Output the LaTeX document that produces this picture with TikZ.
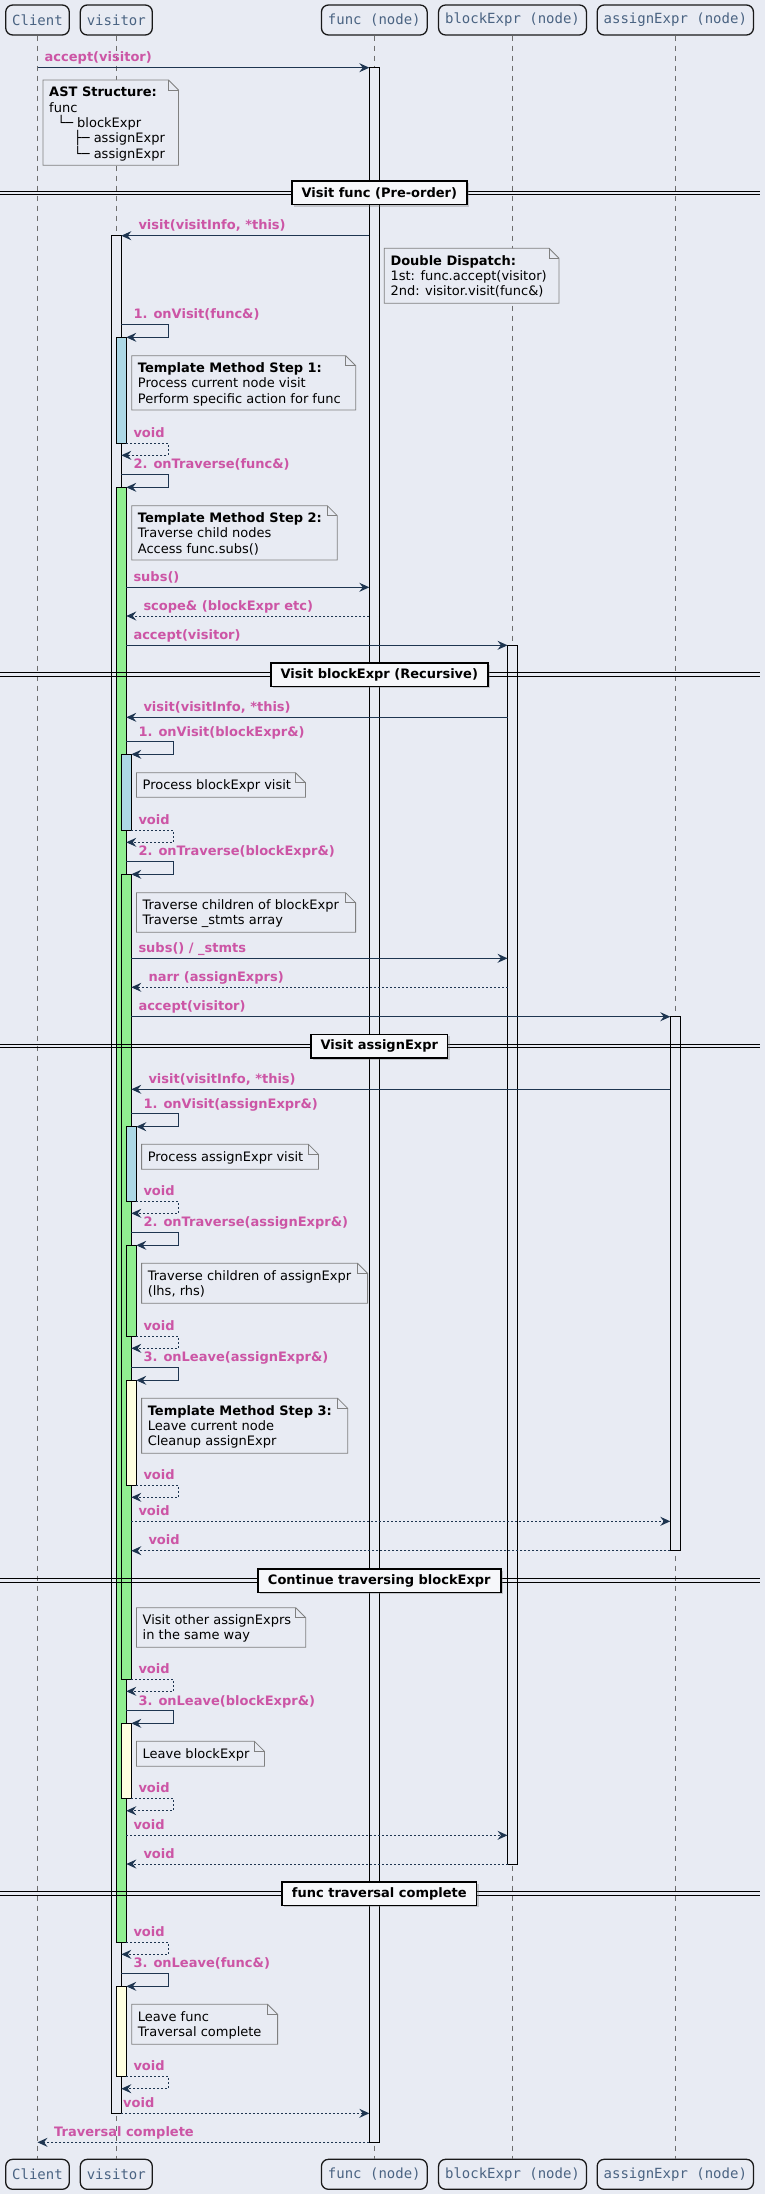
\documentclass[tikz,border=0pt]{standalone}
\usepackage{fontspec}
\setmainfont{DejaVu Sans}
\setmonofont{DejaVu Sans Mono}
\usetikzlibrary{arrows.meta,shadows}
\definecolor{bgc}{HTML}{E8EBF3}
\definecolor{arrc}{HTML}{1E3550}
\definecolor{pinkc}{HTML}{CC55A5}
\definecolor{partc}{HTML}{4A6382}
\definecolor{notec}{HTML}{808080}
\definecolor{lifec}{HTML}{6E6E6E}
\definecolor{actblue}{HTML}{ADD8E6}
\definecolor{actgreen}{HTML}{90EE90}
\definecolor{actyellow}{HTML}{FFFFE0}
% straight message: name, style, x1, x2, y, label x, text
\newcommand\callmsg[7]{%
  \coordinate (#1s) at (#3,#5);
  \coordinate (#1e) at (#4,#5);
  \draw[#2] (#1s) -- (#1e);
  \node[lbl] (#1l) at (#6,#5-6) {#7};}
% self message: name, style, x src, x loop, x dest, y top, y bottom, label x, text
\newcommand\selfmsg[9]{%
  \coordinate (#1a) at (#3,#6);
  \coordinate (#1b) at (#4,#6);
  \coordinate (#1c) at (#4,#7);
  \coordinate (#1d) at (#5,#7);
  \draw[#2] (#1a) -- (#1b) -- (#1c) -- (#1d);
  \node[lbl] (#1l) at (#8,#6-5.5) {#9};}
% note: name, x1, y1, x2, y2, text
\newcommand\notebox[6]{%
  \draw[notestyle] (#2,#3) -- (#4-10,#3) -- (#4,#3+10) -- (#4,#5) -- (#2,#5) -- cycle;
  \draw[notestyle, fill=none] (#4-10,#3) -- (#4-10,#3+10) -- (#4,#3+10);
  \node[notetext] (#1) at (#2+6,#3+7) {#6};}
% divider: name, y, width, text
\newcommand\divider[4]{%
  \draw[divline] (0,#2-1.8) -- (760,#2-1.8);
  \draw[divline] (0,#2+1.8) -- (760,#2+1.8);
  \node[divbox, minimum width=#3] (#1) at (379.3,#2) {#4};}
\begin{document}
\begin{tikzpicture}[x=1pt,y=-1pt,
  msg/.style={draw=arrc, line width=1pt, -{Stealth[length=10pt,width=9pt,inset=3.5pt]}},
  ret/.style={msg, dash pattern=on 2pt off 2pt},
  lbl/.style={font=\fontsize{13}{15}\selectfont\bfseries, text=pinkc, anchor=base west, inner sep=0},
  notestyle/.style={draw=notec, line width=0.8pt, fill=bgc},
  notetext/.style={font=\fontsize{13}{15.2}\selectfont, anchor=north west, align=left, inner sep=0},
  part/.style={draw=black!90, line width=1.3pt, rounded corners=7pt, fill=bgc, text=partc,
    font=\ttfamily\fontsize{14}{16}\selectfont, minimum height=30pt, inner xsep=6.5pt, inner ysep=0},
  life/.style={draw=lifec, line width=0.7pt, dash pattern=on 5pt off 5pt},
  bar/.style={draw=black, line width=0.9pt},
  divline/.style={draw=black, line width=0.9pt},
  divbox/.style={draw=black, line width=1.5pt, fill=bgc!40!white,
    font=\fontsize{13}{15}\selectfont\bfseries, minimum height=23.5pt, inner sep=0,
    drop shadow={shadow xshift=2pt, shadow yshift=-2pt, opacity=0.35}}
]
\useasboundingbox (0,0) rectangle (765,2194);
\fill[bgc] (0,0) rectangle (765,2194);

% participants
\node[part] (pC) at (37.5,20) {Client};
\node[part] (pV) at (116.3,20) {visitor};
\node[part] (pF) at (374.3,20) {func (node)};
\node[part] (pB) at (512.5,20) {blockExpr (node)};
\node[part] (pA) at (675.3,20) {assignExpr (node)};
\node[part] (qC) at (37.5,2174.3) {Client};
\node[part] (qV) at (116.3,2174.3) {visitor};
\node[part] (qF) at (374.3,2174.3) {func (node)};
\node[part] (qB) at (512.5,2174.3) {blockExpr (node)};
\node[part] (qA) at (675.3,2174.3) {assignExpr (node)};

% lifelines
\draw[life] (pC) -- (qC);
\draw[life] (pV) -- (qV);
\draw[life] (pF) -- (qF);
\draw[life] (pB) -- (qB);
\draw[life] (pA) -- (qA);

% activation bars
\draw[bar, fill=bgc] (369.3,67.7) rectangle (379.3,2142.3);
\draw[bar, fill=bgc] (507.5,645.3) rectangle (517.5,1864);
\draw[bar, fill=bgc] (670.3,1016.7) rectangle (680.3,1550.7);
\draw[bar, fill=bgc] (111.3,235.7) rectangle (121.3,2113.3);
\draw[bar, fill=actblue] (116.3,337.3) rectangle (126.3,443.3);
\draw[bar, fill=actgreen] (116.3,487.3) rectangle (126.3,1942);
\draw[bar, fill=actyellow] (116.3,1986.3) rectangle (126.3,2076);
\draw[bar, fill=actblue] (121.3,754.3) rectangle (131.3,830);
\draw[bar, fill=actgreen] (121.3,874.3) rectangle (131.3,1679);
\draw[bar, fill=actyellow] (121.3,1723.3) rectangle (131.3,1798.3);
\draw[bar, fill=actblue] (126.3,1126.7) rectangle (136.3,1201);
\draw[bar, fill=actgreen] (126.3,1245.3) rectangle (136.3,1336);
\draw[bar, fill=actyellow] (126.3,1380.3) rectangle (136.3,1485);

% dividers
\divider{d1}{193}{175.1}{Visit func (Pre-order)}
\divider{d2}{674.5}{217}{Visit blockExpr (Recursive)}
\divider{d3}{1046}{136.6}{Visit assignExpr}
\divider{d4}{1580.7}{243}{Continue traversing blockExpr}
\divider{d5}{1893.5}{194.6}{func traversal complete}

% notes
\notebox{n1}{43}{80}{178.5}{165.3}{\textbf{AST Structure:}\\func\\~~└─ blockExpr\\~~~~~~├─ assignExpr\\~~~~~~└─ assignExpr}
\notebox{n2}{384.3}{248.3}{559}{303.3}{\textbf{Double Dispatch:}\\1st: func.accept(visitor)\\2nd: visitor.visit(func\&)}
\notebox{n3}{131.7}{355.7}{355.7}{410}{\textbf{Template Method Step 1:}\\Process current node visit\\Perform specific action for func}
\notebox{n4}{131.7}{505.7}{337.3}{560}{\textbf{Template Method Step 2:}\\Traverse child nodes\\Access func.subs()}
\notebox{n5}{136.5}{772.7}{305.5}{797.3}{Process blockExpr visit}
\notebox{n6}{136.4}{892.7}{355.6}{932.3}{Traverse children of blockExpr\\Traverse \_stmts array}
\notebox{n7}{141.6}{1144.3}{318.4}{1169.3}{Process assignExpr visit}
\notebox{n8}{141.6}{1263.3}{367.6}{1303.3}{Traverse children of assignExpr\\(lhs, rhs)}
\notebox{n9}{141.6}{1398.3}{347.7}{1453.3}{\textbf{Template Method Step 3:}\\Leave current node\\Cleanup assignExpr}
\notebox{n10}{136.5}{1607.7}{305.7}{1647.3}{Visit other assignExprs\\in the same way}
\notebox{n11}{136.5}{1741.3}{264.5}{1766.3}{Leave blockExpr}
\notebox{n12}{131.7}{2004.3}{277.6}{2044.3}{Leave func\\Traversal complete}

% messages
\callmsg{m1}{msg}{37.5}{369.3}{67.7}{44.5}{accept(visitor)}
\callmsg{m2}{msg}{369.3}{121.3}{235.7}{138.3}{visit(visitInfo, *this)}
\selfmsg{s1}{msg}{121.3}{168.3}{126.3}{324.3}{337.3}{133.3}{1. onVisit(func\&)}
\selfmsg{r1}{ret}{126.3}{168.3}{121.3}{443.3}{455.3}{133.3}{void}
\selfmsg{s2}{msg}{121.3}{168.3}{126.3}{474.3}{487.3}{133.3}{2. onTraverse(func\&)}
\callmsg{m3}{msg}{126.3}{369.3}{587.3}{133.3}{subs()}
\callmsg{m4}{ret}{369.3}{126.3}{616}{143.3}{scope\& (blockExpr etc)}
\callmsg{m5}{msg}{126.3}{507.5}{645.3}{133.3}{accept(visitor)}
\callmsg{m6}{msg}{507.5}{126.3}{717.3}{143.3}{visit(visitInfo, *this)}
\selfmsg{s3}{msg}{126.3}{173.3}{131.3}{741.7}{754.3}{138.3}{1. onVisit(blockExpr\&)}
\selfmsg{r3}{ret}{131.3}{173.3}{126.3}{830}{842.3}{138.3}{void}
\selfmsg{s4}{msg}{126.3}{173.3}{131.3}{861.3}{874.3}{138.3}{2. onTraverse(blockExpr\&)}
\callmsg{m7}{msg}{131.3}{507.5}{958.3}{138.3}{subs() / \_stmts}
\callmsg{m8}{ret}{507.5}{131.3}{987.3}{148.3}{narr (assignExprs)}
\callmsg{m9}{msg}{131.3}{670.3}{1016.7}{138.3}{accept(visitor)}
\callmsg{m10}{msg}{670.3}{131.3}{1089.3}{148.3}{visit(visitInfo, *this)}
\selfmsg{s5}{msg}{131.3}{178.3}{136.3}{1113.7}{1126.7}{143.3}{1. onVisit(assignExpr\&)}
\selfmsg{r5}{ret}{136.3}{178.3}{131.3}{1201}{1213.3}{143.3}{void}
\selfmsg{s6}{msg}{131.3}{178.3}{136.3}{1232.3}{1245.3}{143.3}{2. onTraverse(assignExpr\&)}
\selfmsg{r6}{ret}{136.3}{178.3}{131.3}{1336}{1348.3}{143.3}{void}
\selfmsg{s7}{msg}{131.3}{178.3}{136.3}{1367.3}{1380.3}{143.3}{3. onLeave(assignExpr\&)}
\selfmsg{r7}{ret}{136.3}{178.3}{131.3}{1485}{1497.3}{143.3}{void}
\callmsg{m11}{ret}{131.3}{670.3}{1521.3}{138.3}{void}
\callmsg{m12}{ret}{670.3}{131.3}{1550.7}{148.3}{void}
\selfmsg{r8}{ret}{131.3}{173.3}{126.3}{1679}{1691.3}{138.3}{void}
\selfmsg{s8}{msg}{126.3}{173.3}{131.3}{1710.7}{1723.3}{138.3}{3. onLeave(blockExpr\&)}
\selfmsg{r9}{ret}{131.3}{173.3}{126.3}{1798.3}{1810.7}{138.3}{void}
\callmsg{m13}{ret}{126.3}{507.5}{1835.3}{133.3}{void}
\callmsg{m14}{ret}{507.5}{126.3}{1864}{143.3}{void}
\selfmsg{r10}{ret}{126.3}{168.3}{121.3}{1942}{1954.3}{133.3}{void}
\selfmsg{s9}{msg}{121.3}{168.3}{126.3}{1973.3}{1986.3}{133.3}{3. onLeave(func\&)}
\selfmsg{r11}{ret}{126.3}{168.3}{121.3}{2076}{2088.7}{133.3}{void}
\callmsg{m15}{ret}{121.3}{369.3}{2113.3}{123}{void}
\callmsg{m16}{ret}{369.3}{37.5}{2142.3}{54}{Traversal complete}
\end{tikzpicture}
\end{document}
